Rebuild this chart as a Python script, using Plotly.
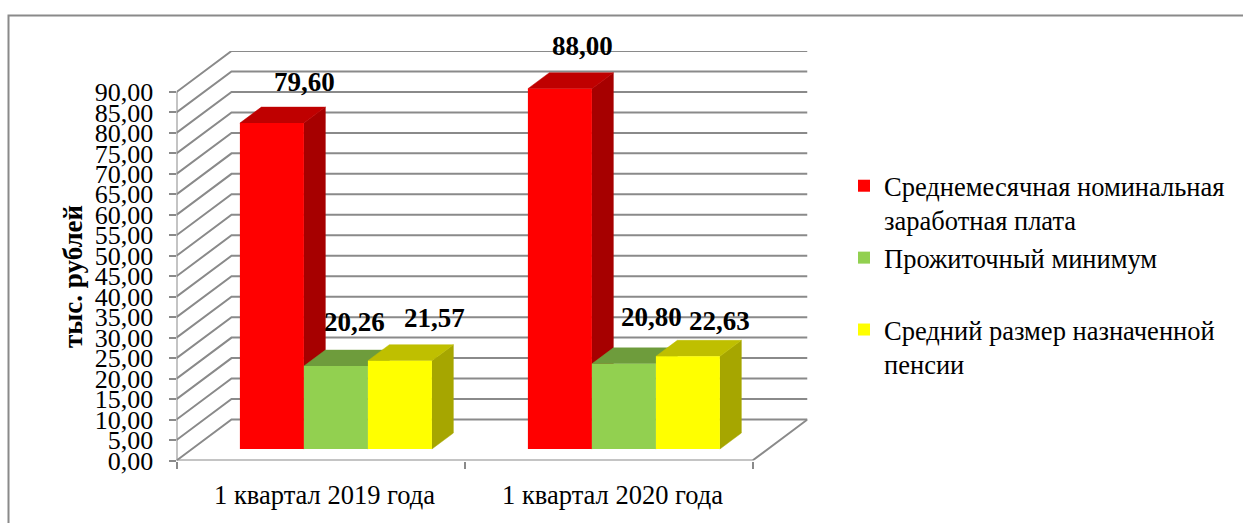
import plotly.graph_objects as go

CATEGORIES = ["1 квартал 2019 года", "1 квартал 2020 года"]
SERIES_NAMES = ["Среднемесячная номинальная<br>заработная плата",
                "Прожиточный минимум<br> ",
                "Средний размер назначенной<br>пенсии"]
WAGE = [79.60, 88.00]
SUBSISTENCE = [20.26, 20.80]
PENSION = [21.57, 22.63]
TICK_VALUES = list(range(0, 95, 5))

FRONT = ["#FF0000", "#92D050", "#FFFF00"]
TOP = ["#BF0000", "#6E9C3C", "#BFBF00"]
SIDE = ["#A60000", "#5F8734", "#A6A600"]
GRID = "#8A8A8A"
SERIF = "Liberation Serif, Times New Roman, serif"

W, H = 1243, 523
X0, X1, XB = 176.5, 752.5, 807.5      # px: axis start, axis end, back wall end
Y0, Y90, YT = 460.5, 92.0, 51.0       # px: value 0, value 90, back wall top
px_x = (X1 - X0) / 2                  # px per category
px_y = (Y0 - Y90) / 90                # px per value unit
DX = (XB - X1) / px_x                 # full depth in x units
DY = (Y90 - YT) / px_y                # full depth in y units
BAR_T0, BAR_T1 = 0.28, 0.67           # depth range occupied by bars
BAR_W = (2 / 3) / 3
x_range = [0, 2 + DX]
y_range = [0, 90 + DY]

fig = go.Figure()

gx, gy = [], []
for v in TICK_VALUES:
    gx += [0, DX, 2 + DX, None]
    gy += [v, v + DY, v + DY, None]
fig.add_trace(go.Scatter(x=gx, y=gy, mode="lines", line=dict(color=GRID, width=2),
                         hoverinfo="skip", showlegend=False))
fig.add_trace(go.Scatter(x=[0, 0, None, 0, 2, 2 + DX], y=[90, 0, None, 0, 0, DY], mode="lines",
                         line=dict(color=GRID, width=2), hoverinfo="skip", showlegend=False,
                         cliponaxis=False))

series = [WAGE, SUBSISTENCE, PENSION]
shift = BAR_T0 * DX
base = BAR_T0 * DY
ddx = (BAR_T1 - BAR_T0) * DX
ddy = (BAR_T1 - BAR_T0) * DY
centers = [i + 0.5 + shift for i in range(len(CATEGORIES))]

for s, vals in enumerate(series):
    for c, v in zip(centers, vals):
        left = c - 1.5 * BAR_W + s * BAR_W
        right = left + BAR_W
        top = base + v
        fig.add_trace(go.Scatter(
            x=[right, right + ddx, right + ddx, right, right],
            y=[base, base + ddy, top + ddy, top, base],
            mode="lines", fill="toself", fillcolor=SIDE[s], line=dict(color=SIDE[s], width=0.5),
            hoverinfo="skip", showlegend=False))
        fig.add_trace(go.Scatter(
            x=[left, left + ddx, right + ddx, right, left],
            y=[top, top + ddy, top + ddy, top, top],
            mode="lines", fill="toself", fillcolor=TOP[s], line=dict(color=TOP[s], width=0.5),
            hoverinfo="skip", showlegend=False))

for s, vals in enumerate(series):
    fig.add_trace(go.Bar(x=centers, y=vals, base=[base] * len(vals), name=SERIES_NAMES[s],
                         marker=dict(color=FRONT[s], line=dict(width=0)),
                         xaxis="x2", yaxis="y2"))

LABEL_SHIFTS = [[(33, 41), (23, 43)], [(19, 44), (28, 47)], [(35, 43), (32, 35)]]
annotations = []
for s, vals in enumerate(series):
    for i, (c, v) in enumerate(zip(centers, vals)):
        sx, sy = LABEL_SHIFTS[s][i]
        annotations.append(dict(
            x=c - BAR_W + s * BAR_W, y=base + v, xref="x2", yref="y2",
            text=f"<b>{v:.2f}".replace(".", ",") + "</b>", showarrow=False,
            xshift=sx, yshift=sy, xanchor="center", yanchor="middle",
            font=dict(family=SERIF, size=27, color="black")))
annotations.append(dict(
    x=73 / W, y=(H - 277) / H, xref="paper", yref="paper", text="<b>тыс. рублей</b>",
    textangle=-90, showarrow=False, xanchor="center", yanchor="middle",
    font=dict(family=SERIF, size=27, color="black")))

fig.update_layout(
    width=W, height=H, autosize=False,
    margin=dict(l=0, r=0, t=0, b=0),
    paper_bgcolor="white", plot_bgcolor="rgba(0,0,0,0)",
    barmode="group", bargap=1/3, bargroupgap=0,
    font=dict(family=SERIF, color="black"),
    xaxis=dict(domain=[X0 / W, XB / W], range=x_range, showgrid=False, zeroline=False, showline=False,
               automargin=False,
               tickmode="array", tickvals=[i + 0.5 for i in range(len(CATEGORIES))], ticktext=CATEGORIES,
               ticks="", ticklabelshift=4, ticklabelstandoff=16, tickfont=dict(size=26.5, family=SERIF),
               minor=dict(tickmode="array", tickvals=[0, 1, 2], ticks="outside", ticklen=7,
                          tickcolor=GRID, tickwidth=2)),
    yaxis=dict(domain=[(H - Y0) / H, (H - YT) / H], range=y_range, showgrid=False, zeroline=False, showline=False,
               automargin=False,
               tickmode="array", tickvals=TICK_VALUES, ticktext=[f"{v},00" for v in TICK_VALUES],
               ticks="outside", ticklen=7, tickcolor=GRID, tickwidth=2, ticklabelstandoff=10,
               tickfont=dict(size=26, family=SERIF)),
    xaxis2=dict(domain=[X0 / W, XB / W], range=x_range, overlaying="x", visible=False),
    yaxis2=dict(domain=[(H - Y0) / H, (H - YT) / H], range=y_range, overlaying="y", visible=False),
    legend=dict(x=844 / W, y=(H - 162) / H, xanchor="left", yanchor="top", valign="top",
                font=dict(size=26.5, family=SERIF), bgcolor="rgba(0,0,0,0)", traceorder="normal"),
    annotations=annotations,
    shapes=[dict(type="rect", xref="paper", yref="paper", x0=8.5 / W, x1=1.02,
                 y0=-0.02, y1=(H - 15.5) / H, line=dict(color=GRID, width=2), layer="below")],
)
fig.write_html("out.html", post_script="document.body.style.margin='0';", config=dict(displayModeBar=False))
